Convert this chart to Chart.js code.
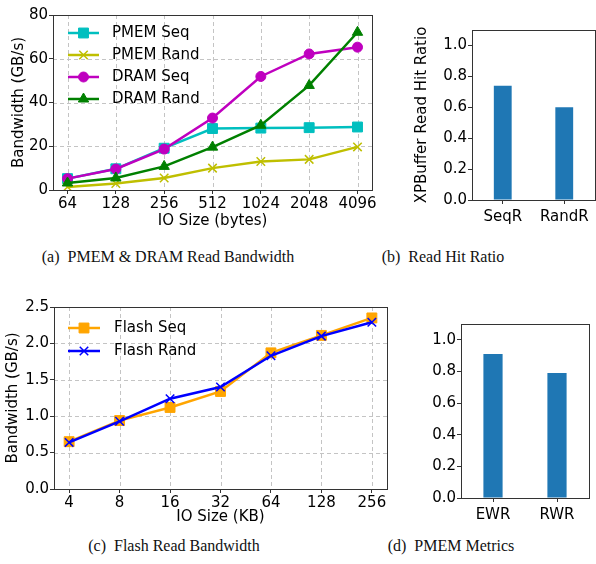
<!DOCTYPE html>
<html lang="en">
<head>
    <meta charset="UTF-8">
    <title>Read Bandwidth and Hit Ratio</title>
    <script src="https://cdn.jsdelivr.net/npm/chart.js@4.4.1/dist/chart.umd.min.js"></script>
    <style>
        * {
            margin: 0;
            padding: 0;
            box-sizing: border-box;
        }

        body {
            background: #fff;
            width: 596px;
            height: 564px;
            position: relative;
            overflow: hidden;
        }

        .panel {
            position: absolute;
        }

        .caption {
            position: absolute;
            width: 400px;
            text-align: center;
            font-family: 'Liberation Serif', 'DejaVu Serif', serif;
            font-size: 16px;
            color: #111;
            white-space: pre;
        }
    </style>
</head>
<body>
    <div class="panel" style="left:0;top:0;width:380px;height:230px"><canvas id="chartA"></canvas></div>
    <div class="panel" style="left:380px;top:0;width:216px;height:235px"><canvas id="chartB"></canvas></div>
    <div class="panel" style="left:0;top:290px;width:400px;height:236px"><canvas id="chartC"></canvas></div>
    <div class="panel" style="left:400px;top:290px;width:196px;height:235px"><canvas id="chartD"></canvas></div>

    <div class="caption" style="left:-32px;top:248px">(a)  PMEM &amp; DRAM Read Bandwidth</div>
    <div class="caption" style="left:243px;top:248px">(b)  Read Hit Ratio</div>
    <div class="caption" style="left:-26px;top:537px">(c)  Flash Read Bandwidth</div>
    <div class="caption" style="left:251px;top:537px">(d)  PMEM Metrics</div>

    <script>
        // (a) PMEM & DRAM read bandwidth, GB/s
        const sizesA = ['64', '128', '256', '512', '1024', '2048', '4096'];
        const pmemSeq = [5.2, 9.7, 19.1, 28.1, 28.3, 28.5, 28.8];
        const pmemRand = [1.4, 3.0, 5.5, 10.0, 13.0, 14.0, 19.7];
        const dramSeq = [5.2, 9.6, 18.7, 32.9, 51.9, 62.2, 65.3];
        const dramRand = [3.2, 5.5, 10.8, 19.6, 29.6, 47.8, 72.1];

        // (b) XPBuffer read hit ratio
        const hitLabels = ['SeqR', 'RandR'];
        const hitRatio = [0.74, 0.60];

        // (c) Flash read bandwidth, GB/s
        const sizesC = ['4', '8', '16', '32', '64', '128', '256'];
        const flashSeq = [0.65, 0.94, 1.12, 1.34, 1.87, 2.11, 2.35];
        const flashRand = [0.64, 0.93, 1.24, 1.40, 1.83, 2.10, 2.29];

        // (d) PMEM metrics
        const metricLabels = ['EWR', 'RWR'];
        const metricValues = [0.91, 0.79];

        Chart.defaults.font.family = "'DejaVu Sans', sans-serif";
        Chart.defaults.font.size = 15;
        Chart.defaults.color = '#000';
        Chart.defaults.animation = false;

        const frame = {
            id: 'frame',
            afterDraw(chart) {
                const { ctx, chartArea: a } = chart;
                ctx.save();
                ctx.strokeStyle = '#333';
                ctx.lineWidth = 1;
                const l = Math.round(a.left) + 0.5, t = Math.round(a.top) + 0.5;
                ctx.strokeRect(l, t, Math.round(a.right) - Math.round(a.left), Math.round(a.bottom) - Math.round(a.top));
                ctx.restore();
            }
        };

        // dashed grid lines at the tick positions
        const dashGrid = {
            id: 'dashGrid',
            beforeDatasetsDraw(chart, args, opts) {
                if (!opts.show) return;
                const { ctx, chartArea: a, scales } = chart;
                ctx.save();
                ctx.strokeStyle = '#c4c4c4';
                ctx.lineWidth = 1;
                ctx.setLineDash([4, 3]);
                scales.x.ticks.forEach(t => {
                    const x = Math.round(scales.x.getPixelForValue(t.value)) + 0.5;
                    ctx.beginPath(); ctx.moveTo(x, a.top); ctx.lineTo(x, a.bottom); ctx.stroke();
                });
                scales.y.ticks.forEach(t => {
                    const y = Math.round(scales.y.getPixelForValue(t.value)) + 0.5;
                    ctx.beginPath(); ctx.moveTo(a.left, y); ctx.lineTo(a.right, y); ctx.stroke();
                });
                ctx.restore();
            }
        };

        // legend drawn inside the plot, top left, without a box
        const innerLegend = {
            id: 'innerLegend',
            afterDatasetsDraw(chart, args, opts) {
                if (!opts.show) return;
                const { ctx, chartArea: a } = chart;
                chart.data.datasets.forEach((ds, i) => {
                    const y = a.top + opts.top + i * opts.gap;
                    const x0 = a.left + opts.left;
                    ctx.save();
                    ctx.strokeStyle = ds.borderColor;
                    ctx.lineWidth = ds.borderWidth;
                    ctx.beginPath();
                    ctx.moveTo(x0, y);
                    ctx.lineTo(x0 + opts.len, y);
                    ctx.stroke();
                    ctx.fillStyle = ds.pointBackgroundColor;
                    ctx.strokeStyle = ds.pointBorderColor;
                    ctx.lineWidth = ds.pointBorderWidth;
                    Chart.helpers.drawPoint(ctx, {
                        pointStyle: ds.pointStyle, radius: ds.pointRadius, rotation: 0, borderWidth: ds.pointBorderWidth
                    }, x0 + opts.len / 2, y);
                    ctx.fillStyle = '#000';
                    ctx.font = "15px 'DejaVu Sans'";
                    ctx.textBaseline = 'middle';
                    ctx.fillText(ds.label, x0 + opts.len + opts.gapText, y);
                    ctx.restore();
                });
            }
        };

        function lineSet(label, values, color, style, radius, order) {
            return {
                label: label,
                data: values.map((v, i) => ({ x: i, y: v })),
                borderColor: color,
                backgroundColor: color,
                borderWidth: 2.5,
                pointStyle: style,
                pointRadius: radius,
                pointBackgroundColor: color,
                pointBorderColor: color,
                pointBorderWidth: style === 'crossRot' ? 1.5 : 1,
                order: order
            };
        }

        const tickGrid = { drawOnChartArea: false, tickColor: '#333', tickLength: 4 };

        function lineOptions(labels, ymax, ystep, fixY, yTitle, xTitle, yAxisWidth, xAxisHeight, yTitlePad, legend) {
            return {
                responsive: true,
                maintainAspectRatio: false,
                layout: { padding: legend.pad },
                plugins: {
                    legend: { display: false },
                    tooltip: { enabled: false },
                    innerLegend: legend.box,
                    dashGrid: { show: true }
                },
                scales: {
                    x: {
                        type: 'linear',
                        min: -0.3,
                        max: labels.length - 0.7,
                        afterBuildTicks: s => { s.ticks = labels.map((_, i) => ({ value: i })); },
                        afterFit: s => { s.height = xAxisHeight; },
                        ticks: { padding: 1, maxRotation: 0, autoSkip: false, callback: v => labels[v] },
                        grid: tickGrid,
                        border: { display: false },
                        title: { display: true, text: xTitle, padding: 0 }
                    },
                    y: {
                        min: 0,
                        max: ymax,
                        ticks: { stepSize: ystep, padding: 1, autoSkip: false, callback: v => fixY ? v.toFixed(fixY) : v },
                        afterFit: s => { s.width = yAxisWidth; },
                        grid: tickGrid,
                        border: { display: false },
                        title: { display: true, text: yTitle, padding: { top: yTitlePad, bottom: 0 } }
                    }
                }
            };
        }

        // (a)
        new Chart(document.getElementById('chartA'), {
            type: 'line',
            data: {
                datasets: [
                    lineSet('PMEM Seq', pmemSeq, '#00bfbf', 'rect', 7, 4),
                    lineSet('PMEM Rand', pmemRand, '#bfbf00', 'crossRot', 6, 3),
                    lineSet('DRAM Seq', dramSeq, '#bf00bf', 'circle', 5, 2),
                    lineSet('DRAM Rand', dramRand, '#008000', 'triangle', 6, 1)
                ]
            },
            options: lineOptions(sizesA, 80, 20, 0, 'Bandwidth (GB/s)', 'IO Size (bytes)', 53, 40, 10, {
                pad: { top: 15, right: 8, left: 0, bottom: 0 },
                box: { show: true, left: 15, top: 18, gap: 22, len: 31, gapText: 13 }
            }),
            plugins: [dashGrid, frame, innerLegend]
        });

        // (c)
        new Chart(document.getElementById('chartC'), {
            type: 'line',
            data: {
                datasets: [
                    lineSet('Flash Seq', flashSeq, '#ffa500', 'rect', 7, 2),
                    lineSet('Flash Rand', flashRand, '#0000ff', 'crossRot', 6, 1)
                ]
            },
            options: lineOptions(sizesC, 2.5, 0.5, 1, 'Bandwidth (GB/s)', 'IO Size (KB)', 54, 37, 4, {
                pad: { top: 17, right: 13, left: 0, bottom: 0 },
                box: { show: true, left: 14, top: 21, gap: 23, len: 32, gapText: 14 }
            }),
            plugins: [dashGrid, frame, innerLegend]
        });

        function barOptions(yTitle, yAxisWidth, xAxisHeight, yTitlePad, pad) {
            return {
                responsive: true,
                maintainAspectRatio: false,
                layout: { padding: pad },
                plugins: { legend: { display: false }, tooltip: { enabled: false } },
                scales: {
                    x: {
                        afterFit: s => { s.height = xAxisHeight; },
                        ticks: { padding: 4, maxRotation: 0, autoSkip: false },
                        grid: { drawOnChartArea: false, tickColor: '#333', tickLength: 4, offset: false },
                        border: { display: false }
                    },
                    y: {
                        min: 0,
                        max: 1.1,
                        afterFit: s => { s.width = yAxisWidth; },
                        ticks: { stepSize: 0.2, padding: 1, includeBounds: false, autoSkip: false, callback: v => v.toFixed(1) },
                        grid: tickGrid,
                        border: { display: false },
                        title: { display: !!yTitle, text: yTitle, padding: { top: yTitlePad, bottom: 0 } }
                    }
                }
            };
        }

        // (b)
        new Chart(document.getElementById('chartB'), {
            type: 'bar',
            data: {
                labels: hitLabels,
                datasets: [{ data: hitRatio, backgroundColor: '#1f77b4', categoryPercentage: 1, barPercentage: 0.29 }]
            },
            options: barOptions('XPBuffer Read Hit Ratio', 92, 35, 33, { top: 30, right: 1, left: 0, bottom: 0 }),
            plugins: [frame]
        });

        // (d)
        new Chart(document.getElementById('chartD'), {
            type: 'bar',
            data: {
                labels: metricLabels,
                datasets: [{ data: metricValues, backgroundColor: '#1f77b4', categoryPercentage: 1, barPercentage: 0.3 }]
            },
            options: barOptions('', 61, 27, 0, { top: 34, right: 7, left: 0, bottom: 0 }),
            plugins: [frame]
        });
    </script>
</body>
</html>
